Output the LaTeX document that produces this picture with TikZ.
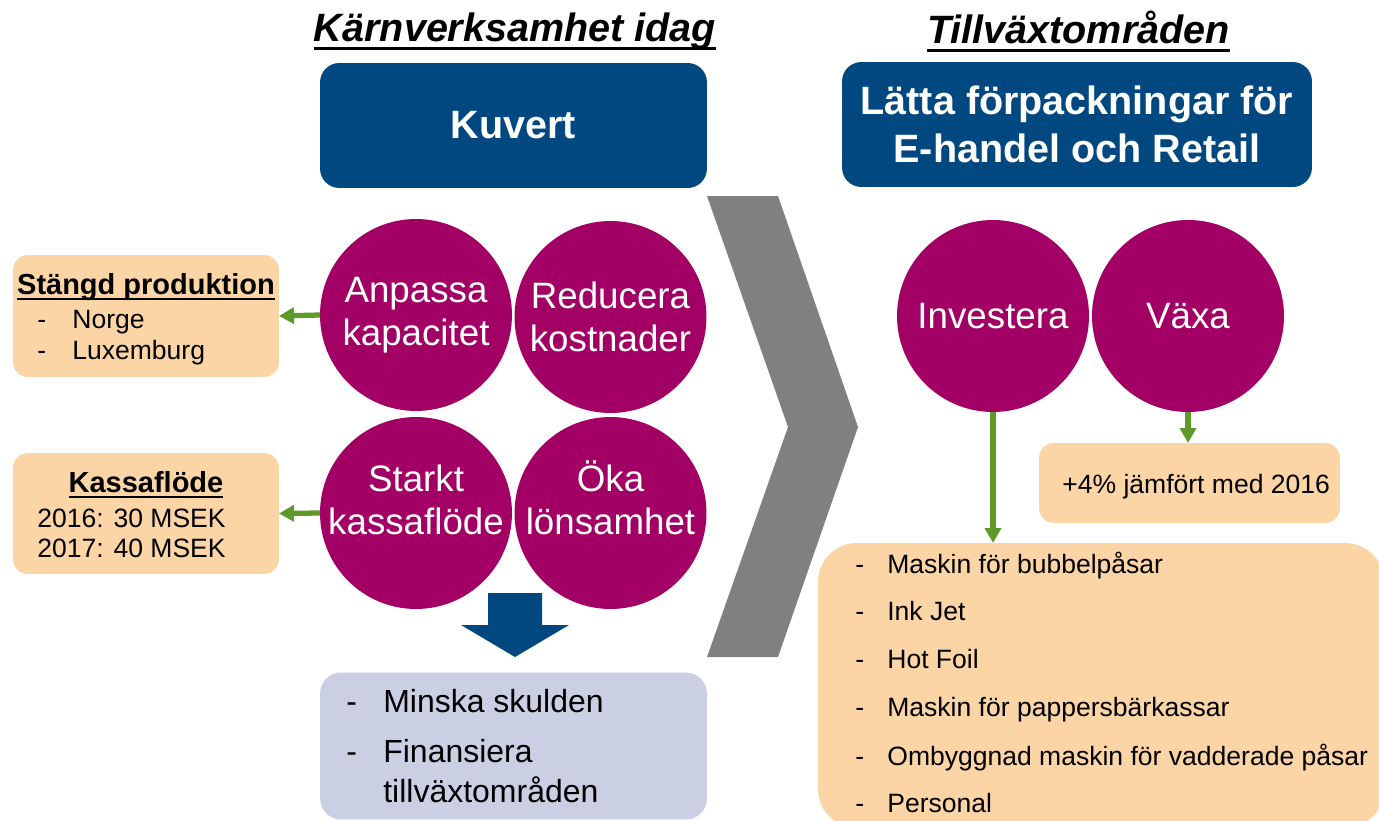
\documentclass[tikz,border=0pt]{standalone}
\usepackage{fontspec}
\setmainfont{Liberation Sans}
\usetikzlibrary{positioning}
\usetikzlibrary{arrows.meta}
\usepackage{xcolor}

\definecolor{kblue}{HTML}{00487F}
\definecolor{kpurple}{HTML}{A20065}
\definecolor{kpeach}{HTML}{FCD5A6}
\definecolor{klilac}{HTML}{CBCFE3}
\definecolor{kgreen}{HTML}{5E9A2A}
\definecolor{kgrey}{HTML}{808080}

\newcommand{\ulbar}[1]{\setbox0=\hbox{#1}\rlap{\rule[-0.21em]{\wd0}{0.085em}}\box0}

\begin{document}
\begin{tikzpicture}[x=0.02cm, y=-0.02cm,
    hdr/.style={anchor=base, inner sep=0pt, font=\fontsize{22.5}{27}\selectfont\bfseries\itshape},
    kbox/.style={fill=kblue, rounded corners=11pt, text=white, align=center, inner sep=0pt, outer sep=0pt,
        font=\fontsize{22.5}{27.3}\selectfont\bfseries},
    blob/.style={circle, fill=kpurple, minimum size=3.84cm, inner sep=0pt, outer sep=0pt, text=white,
        align=center, font=\fontsize{20.9}{24.75}\selectfont},
    blobtxt/.style={text=white, align=center, inner sep=0pt, font=\fontsize{20.9}{24.75}\selectfont},
    pbox/.style={fill=kpeach, rounded corners=8.5pt, inner sep=0pt, outer sep=0pt},
    phead/.style={anchor=base, inner sep=0pt, font=\fontsize{16.5}{20}\selectfont\bfseries},
    ptext/.style={anchor=base west, inner sep=0pt, font=\fontsize{15.1}{18}\selectfont},
    mtext/.style={anchor=base west, inner sep=0pt, font=\fontsize{18.2}{22}\selectfont},
    grn/.style={draw=kgreen, line width=3pt, -{Triangle[length=8.5pt, width=9pt]}}]

    \useasboundingbox (0,0) rectangle (1379,821);
    \clip (0,0) rectangle (1379,821);

    % Headings
    \node[hdr] (hdrcore) at (515,42) {\ulbar{Kärnverksamhet idag}};
    \node[hdr] (hdrgrow) at (1078.5,44) {\ulbar{Tillväxtområden}};

    \node[kbox, minimum width=7.74cm, minimum height=2.5cm] (kuvert) at (513.5,125.5) {Kuvert};
    \node[kbox, minimum width=9.4cm, minimum height=2.5cm] (latta) at (1077,124.5) {Lätta förpackningar för\\E-handel och Retail};

    % Chevron
    \fill[kgrey] (707,196) -- (778,196) -- (858,427) -- (778,657) -- (707,657) -- (788,427) -- cycle;

    % Core business circles
    \node[blob] (anp) at (416,315) {Anpassa\\kapacitet};
    \node[blob] (red) at (610.5,317) {Reducera\\kostnader};
    \node[blob] (sta) at (416,513) {};
    \node[blob] (oka) at (610.5,513) {};
    \node[blobtxt] (staT) at (416,500) {Starkt\\kassaflöde};
    \node[blobtxt] (okaT) at (610.5,498) {Öka\\lönsamhet};

    % Side boxes
    \node[pbox, minimum width=5.32cm, minimum height=2.44cm] (stangd) at (146,316) {};
    \node[phead] (stangdT) at (146,294) {\ulbar{Stängd produktion}};
    \node[ptext] (s1) at (37,328) {-};
    \node[ptext] (norge) at (72,328) {Norge};
    \node[ptext] (s2) at (37,359) {-};
    \node[ptext] (lux) at (72,359) {Luxemburg};

    \node[pbox, minimum width=5.32cm, minimum height=2.42cm] (kassa) at (146,513.5) {};
    \node[phead] (kassaT) at (146,492) {\ulbar{Kassaflöde}};
    \node[ptext] (k16) at (37,527) {2016: 30 MSEK};
    \node[ptext] (k17) at (37,557) {2017: 40 MSEK};

    \draw[grn] (anp.west) -- (stangd.east);
    \draw[grn] (sta.west) -- (kassa.east);

    % Down arrow and result box
    \fill[kblue] (488,593) -- (542,593) -- (542,625) -- (569,625) -- (515,657) -- (461,625) -- (488,625) -- cycle;
    \node[fill=klilac, rounded corners=12pt, inner sep=0pt, minimum width=7.74cm, minimum height=2.94cm] (minska) at (513.5,746) {};
    \node[mtext] (m1) at (346,712) {-};
    \node[mtext] (skuld) at (383,712) {Minska skulden};
    \node[mtext] (m2) at (346,762) {-};
    \node[mtext] (fin) at (383,762) {Finansiera};
    \node[mtext] (tva) at (383,802) {tillväxtområden};

    % Growth circles
    \node[blob] (inv) at (993,316) {Investera};
    \node[blob] (vax) at (1188,316) {Växa};

    \node[pbox, minimum width=6.02cm, minimum height=1.6cm] (plus) at (1189.5,483) {};
    \node[ptext] (plusT) at (1062,493) {+4\% jämfört med 2016};

    \node[pbox, rounded corners=22pt, minimum width=11.32cm, minimum height=5.7cm] (lista) at (1101,685.5) {};
    \node[ptext] (l1) at (855,573) {-};
    \node[ptext] (bubb) at (887,573) {Maskin för bubbelpåsar};
    \node[ptext] (l2) at (855,620.5) {-};
    \node[ptext] (ink) at (887,620.5) {Ink Jet};
    \node[ptext] (l3) at (855,668) {-};
    \node[ptext] (foil) at (887,668) {Hot Foil};
    \node[ptext] (l4) at (855,716.5) {-};
    \node[ptext] (papp) at (887,716.5) {Maskin för pappersbärkassar};
    \node[ptext] (l5) at (855,765) {-};
    \node[ptext] (vadd) at (887,765) {Ombyggnad maskin för vadderade påsar};
    \node[ptext] (l6) at (855,812) {-};
    \node[ptext] (pers) at (887,812) {Personal};

    \draw[grn] (inv.south) -- (inv.south |- lista.north);
    \draw[grn] (vax.south) -- (vax.south |- plus.north);
\end{tikzpicture}
\end{document}
